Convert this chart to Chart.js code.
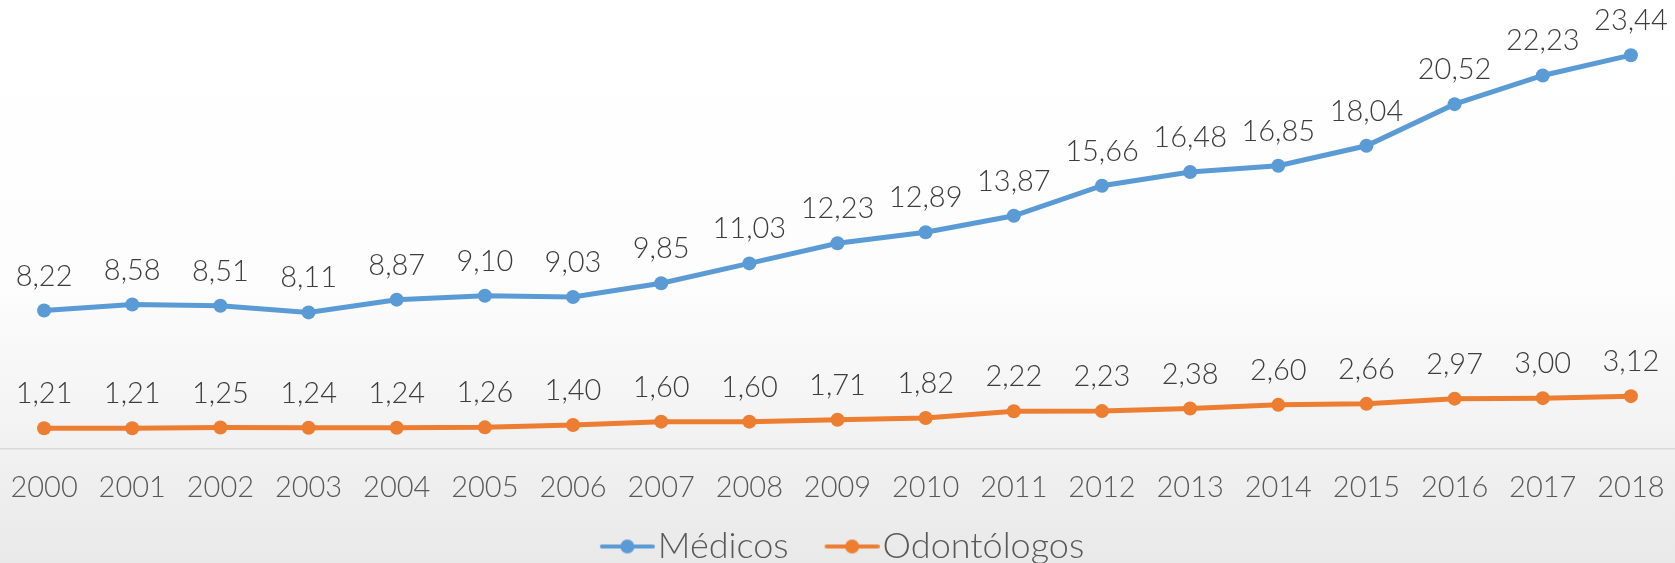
<!DOCTYPE html>
<html><head><meta charset="utf-8">
<script src="https://cdn.jsdelivr.net/npm/chart.js@4/dist/chart.umd.min.js"></script>
<style>html,body{margin:0;padding:0;background:#fff}#wrap{width:1675px;height:563px;position:relative}</style>
</head><body><div id="wrap"><canvas id="c" width="1675" height="563"></canvas></div>
<script>
const years = ['2000','2001','2002','2003','2004','2005','2006','2007','2008','2009','2010','2011','2012','2013','2014','2015','2016','2017','2018'];
const medicos = [8.22, 8.58, 8.51, 8.11, 8.87, 9.10, 9.03, 9.85, 11.03, 12.23, 12.89, 13.87, 15.66, 16.48, 16.85, 18.04, 20.52, 22.23, 23.44];
const odontologos = [1.21, 1.21, 1.25, 1.24, 1.24, 1.26, 1.40, 1.60, 1.60, 1.71, 1.82, 2.22, 2.23, 2.38, 2.60, 2.66, 2.97, 3.00, 3.12];
const seriesNames = ['Médicos', 'Odontólogos'];
const seriesColors = ['#5B9BD5', '#ED7D31'];
const FONT = 'Lato, "Open Sans", sans-serif';

function legendIcon(color){
  const c = document.createElement('canvas');
  c.width = 85; c.height = 18;
  const g = c.getContext('2d');
  g.strokeStyle = color; g.lineWidth = 4; g.lineCap = 'round';
  g.beginPath(); g.moveTo(32, 9); g.lineTo(83, 9); g.stroke();
  g.fillStyle = color; g.beginPath(); g.arc(57.5, 9, 7, 0, Math.PI*2); g.fill();
  return c;
}
const icons = seriesColors.map(legendIcon);

const bgPlugin = {
  id: 'bg',
  beforeDraw(chart){
    const {ctx, width, height} = chart;
    ctx.save();
    const g = ctx.createLinearGradient(0, 0, 0, height);
    g.addColorStop(0, '#ffffff');
    g.addColorStop(0.5, '#fdfdfd');
    g.addColorStop(1, '#e9e9e9');
    ctx.fillStyle = g;
    ctx.fillRect(0, 0, width, height);
    ctx.restore();
  }
};

const legendShift = {
  id: 'legendShift',
  afterLayout(chart){
    if (chart.legend) { chart.legend.left -= 3; chart.legend.right -= 3; }
  }
};

const valuePlugin = {
  id: 'vals',
  afterDatasetsDraw(chart){
    const ctx = chart.ctx;
    ctx.save();
    ctx.font = '300 29px ' + FONT;
    ctx.fillStyle = '#3d3d3d';
    ctx.textAlign = 'center';
    ctx.textBaseline = 'alphabetic';
    chart.data.datasets.forEach((ds, i) => {
      chart.getDatasetMeta(i).data.forEach((pt, j) => {
        ctx.fillText(ds.data[j].toFixed(2).replace('.', ','), pt.x, pt.y - 25);
      });
    });
    ctx.restore();
  }
};

new Chart(document.getElementById('c'), {
  type: 'line',
  data: {
    labels: years,
    datasets: [
      {label: seriesNames[0], data: medicos, borderColor: seriesColors[0], backgroundColor: seriesColors[0], borderWidth: 5, pointRadius: 7, pointBorderWidth: 0, tension: 0},
      {label: seriesNames[1], data: odontologos, borderColor: seriesColors[1], backgroundColor: seriesColors[1], borderWidth: 5, pointRadius: 7, pointBorderWidth: 0, tension: 0}
    ]
  },
  options: {
    responsive: false,
    maintainAspectRatio: false,
    animation: false,
    layout: {autoPadding: false, padding: {top: 29, bottom: -11.5, left: 0, right: 0}},
    scales: {
      x: {
        offset: true,
        grid: {display: false, drawTicks: false},
        border: {display: true, color: '#d9d9d9', width: 1.5},
        ticks: {font: {family: FONT, size: 29, weight: '300'}, color: '#595959', padding: 22, maxRotation: 0, autoSkip: false},
        afterFit(s){ s.height = 59; s.paddingLeft = 0; s.paddingRight = 0; }
      },
      y: {display: false, min: 0, max: 25}
    },
    plugins: {
      legend: {
        position: 'bottom',
        labels: {
          usePointStyle: true, pointStyleWidth: 55, padding: 21,
          font: {family: FONT, size: 36, weight: '300'}, color: '#595959',
          generateLabels(chart){
            const items = Chart.defaults.plugins.legend.labels.generateLabels(chart);
            items.forEach((it, i) => { it.pointStyle = icons[i]; });
            return items;
          }
        }
      },
      tooltip: {enabled: false}
    }
  },
  plugins: [bgPlugin, legendShift, valuePlugin]
});
</script>
</body></html>
